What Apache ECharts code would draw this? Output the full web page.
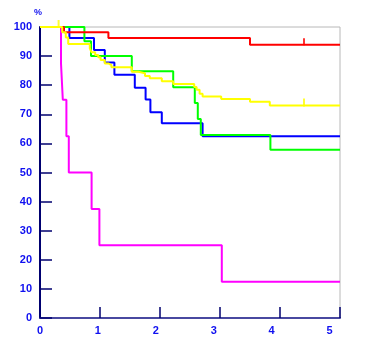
<!DOCTYPE html>
<html>
<head>
<meta charset="utf-8">
<script src="https://cdn.jsdelivr.net/npm/echarts@6/dist/echarts.min.js"></script>
<style>
  html, body { margin: 0; padding: 0; background: #fff; }
  #chart { width: 365px; height: 351px; }
</style>
</head>
<body>
<div id="chart"></div>
<script>
// 生存曲线 (years vs %)
var xTicks = [0, 1, 2, 3, 4, 5]
var yTicks = [0, 10, 20, 30, 40, 50, 60, 70, 80, 90, 100]

var redTime = [0, 0.40, 1.14, 3.50, 5.0]
var redSurv = [100, 98.2, 96.2, 93.9, 93.9]

var blueTime = [0, 0.49, 0.90, 1.08, 1.24, 1.58, 1.76, 1.84, 2.03, 2.71, 5.0]
var blueSurv = [100, 96.2, 92.1, 87.8, 83.6, 79.1, 75.1, 70.7, 66.9, 62.5, 62.5]

var greenTime = [0, 0.74, 0.85, 1.53, 2.22, 2.58, 2.63, 2.68, 3.84, 5.0]
var greenSurv = [100, 95.1, 90.0, 84.8, 79.3, 73.9, 68.4, 62.9, 57.8, 57.8]

var yellowTime = [0, 0.37, 0.43, 0.47, 0.83, 0.86, 0.92, 0.97, 1.01, 1.08, 1.14, 1.19, 1.53, 1.64, 1.75, 1.83, 2.03, 2.22, 2.57, 2.61, 2.66, 2.71, 3.02, 3.50, 3.83, 5.0]
var yellowSurv = [100, 98.2, 96.4, 94.2, 92.7, 91.3, 90.4, 89.6, 88.7, 87.5, 86.9, 86.2, 84.6, 84.1, 83.2, 82.4, 81.4, 80.4, 79.4, 78.4, 77.1, 76.1, 75.3, 74.3, 73.0, 73.0]

var magentaTime = [0, 0.35, 0.38, 0.44, 0.48, 0.86, 0.99, 3.03, 5.0]
var magentaSurv = [100, 87.5, 75.0, 62.5, 50.0, 37.5, 25.0, 12.5, 12.5]

// censored marks
var redCensorTime = [4.4]
var redCensorSurv = [93.9]
var yellowCensorTime = [0.31, 4.4]
var yellowCensorSurv = [100, 73.0]

function pairs(xs, ys) {
  return xs.map(function (x, i) { return [x, ys[i]] })
}

function stepLine(name, color, xs, ys) {
  return {
    name: name,
    type: 'line',
    step: 'end',
    symbol: 'none',
    silent: true,
    lineStyle: { color: color, width: 2 },
    data: pairs(xs, ys)
  }
}

function censor(color, xs, ys, size) {
  return {
    type: 'scatter',
    symbol: 'rect',
    symbolSize: size,
    symbolOffset: [0, -3],
    itemStyle: { color: color },
    silent: true,
    data: pairs(xs, ys)
  }
}

var labelStyle = {
  color: '#1010f0',
  fontFamily: 'Liberation Sans',
  fontWeight: 'bold',
  fontSize: 11
}

var chart = echarts.init(document.getElementById('chart'))
var option = {
  animation: false,
  backgroundColor: '#fff',
  grid: {
    left: 40,
    right: 25,
    top: 27,
    bottom: 33,
    show: true,
    borderColor: '#b8b8b8',
    borderWidth: 1
  },
  graphic: [
    {
      type: 'text',
      left: 34,
      top: 8,
      style: { text: '%', fill: '#1010f0', font: 'bold 9px Liberation Sans' }
    }
  ],
  xAxis: [
    {
      type: 'value',
      min: xTicks[0],
      max: xTicks[xTicks.length - 1],
      interval: 1,
      axisLine: { lineStyle: { color: '#4848a0', width: 2 } },
      axisTick: { inside: true, length: 11, lineStyle: { color: '#000070', width: 1.5 } },
      axisLabel: { show: false },
      splitLine: { show: false }
    },
    {
      // labels sit a little left of the ticks in the original
      type: 'value',
      min: 0,
      max: 5.18,
      interval: 1,
      position: 'bottom',
      axisLine: { show: false },
      axisTick: { show: false },
      axisLabel: Object.assign({
        margin: 7,
        formatter: function (v) { return Number.isInteger(v) ? String(v) : '' }
      }, labelStyle),
      splitLine: { show: false }
    }
  ],
  yAxis: {
    type: 'value',
    min: yTicks[0],
    max: yTicks[yTicks.length - 1],
    interval: 10,
    axisLine: { show: true, lineStyle: { color: '#000070', width: 2 } },
    axisTick: { show: true, inside: true, length: 12, lineStyle: { color: '#000070', width: 1.5 } },
    axisLabel: Object.assign({ margin: 8 }, labelStyle),
    splitLine: { show: false }
  },
  series: [
    stepLine('magenta', '#ff00ff', magentaTime, magentaSurv),
    stepLine('blue', '#0000ff', blueTime, blueSurv),
    stepLine('green', '#00ff00', greenTime, greenSurv),
    stepLine('red', '#ff0000', redTime, redSurv),
    stepLine('yellow', '#ffff00', yellowTime, yellowSurv),
    censor('#ff0000', redCensorTime, redCensorSurv, [2, 7]),
    censor('#ffff00', yellowCensorTime, yellowCensorSurv, [2, 8])
  ]
}
chart.setOption(option)
</script>
</body>
</html>
